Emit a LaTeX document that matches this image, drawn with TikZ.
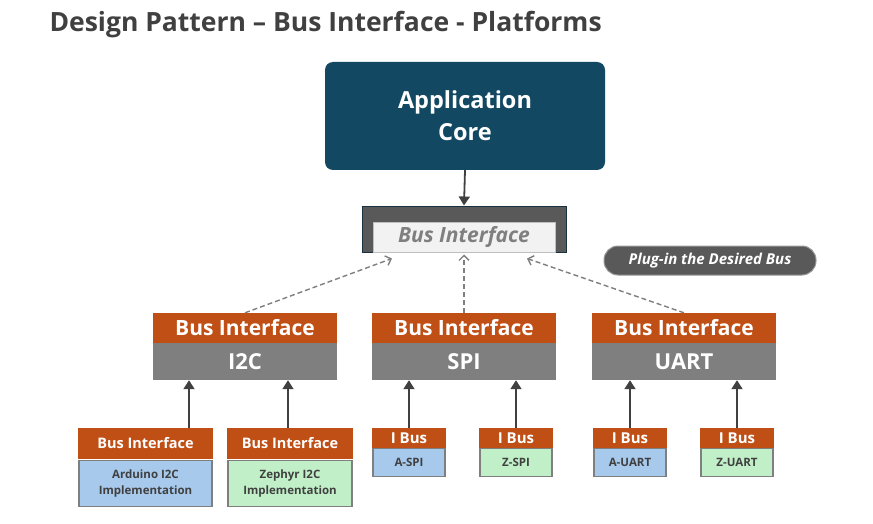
\documentclass[tikz,border=0pt]{standalone}
\usepackage{fontspec}
\setmainfont{Open Sans}
\usetikzlibrary{arrows.meta,calc}
\definecolor{appblue}{RGB}{19,72,98}
\definecolor{busorange}{RGB}{192,79,21}
\definecolor{busgray}{RGB}{127,127,127}
\definecolor{darkgray}{RGB}{89,89,89}
\definecolor{titlegray}{RGB}{64,64,64}
\definecolor{implblue}{RGB}{166,201,236}
\definecolor{implgreen}{RGB}{193,240,200}
\definecolor{framedark}{RGB}{24,50,66}
\newcommand{\fs}[1]{\fontsize{#1}{#1}\selectfont}
\begin{document}
\begin{tikzpicture}[x=1pt,y=-1pt,
    hdr/.style={fill=busorange,text=white,font=\bfseries,inner sep=0pt},
    body/.style={fill=busgray,text=white,font=\bfseries\fs{22},inner sep=0pt},
    impl/.style={draw=busgray,line width=1.6pt,text=titlegray,font=\bfseries\fontsize{11.5}{15.5}\selectfont,inner sep=0pt,align=center},
    uparrow/.style={draw=titlegray,line width=1.8pt,-{Triangle[length=9pt,width=11pt]}},
    dasharrow/.style={draw=busgray,line width=1.4pt,dash pattern=on 5pt off 3pt,-{Straight Barb[length=5pt,width=10pt]}}]
  \useasboundingbox (0,0) rectangle (873,524);
  \node[anchor=west,text=titlegray,font=\bfseries\fs{26.5}] (title) at (46,25) {Design Pattern -- Bus Interface - Platforms};
  % core and the abstract bus
  \node[fill=appblue,rounded corners=8pt,minimum width=280pt,minimum height=108pt,text=white,font=\bfseries\fontsize{23.5}{32}\selectfont,align=center] (app) at (465,116) {Application\\Core};
  \node[fill=darkgray,draw=framedark,line width=1pt,minimum width=204pt,minimum height=46pt] (busouter) at (464,229) {};
  \node[fill=black!5,draw=black!25,line width=1pt,minimum width=182pt,minimum height=30pt,inner sep=0pt,text=busgray,font=\bfseries\itshape\fs{21}] (businner) at (464,237) {Bus Interface};
  \node[fill=darkgray,draw=black!40,line width=1pt,rounded corners=14pt,minimum width=212pt,minimum height=29pt,inner sep=0pt,text=white,font=\bfseries\itshape\fs{15}] (plug) at (710,260.5) {Plug-in the Desired Bus};
  \draw[uparrow] (app.south) -- (busouter.north);
  % platform buses
  \foreach \nm/\x/\lab in {i2c/245/I2C,spi/464/SPI,uart/684/UART}{
    \node[hdr,minimum width=184pt,minimum height=30pt,font=\bfseries\fs{21}] (\nm top) at (\x,328) {Bus Interface};
    \node[body,minimum width=184pt,minimum height=37pt] (\nm) at (\x,361.5) {\lab};
  }
  \draw[dasharrow] (i2ctop.north) -- ($(businner.south)+(-72,6)$);
  \draw[dasharrow] (spitop.north) -- ($(businner.south)+(0,2)$);
  \draw[dasharrow] (uarttop.north) -- ($(businner.south)+(63,6)$);
  % I2C implementations
  \foreach \nm/\x/\w/\lab/\col in {ard/145.5/135/{Arduino I2C\\Implementation}/implblue,zeph/290/126/{Zephyr I2C\\Implementation}/implgreen}{
    \node[hdr,minimum width=\w pt,minimum height=31pt,font=\bfseries\fs{14.5}] (\nm top) at (\x,443.5) {Bus Interface};
    \node[impl,fill=\col,minimum width=\w pt-1.6pt,minimum height=46pt] (\nm) at (\x,483.5) {\lab};
  }
  \draw[uparrow] ([xshift=43.5pt]ardtop.north) -- ([xshift=43.5pt]ardtop.north |- i2c.south);
  \draw[uparrow] ([xshift=-2pt]zephtop.north) -- ([xshift=-2pt]zephtop.north |- i2c.south);
  % SPI and UART implementations
  \foreach \nm/\x/\bus/\lab/\col in {aspi/409/spi/A-SPI/implblue,zspi/516/spi/Z-SPI/implgreen,auart/630/uart/A-UART/implblue,zuart/737/uart/Z-UART/implgreen}{
    \node[hdr,minimum width=74pt,minimum height=20pt,font=\bfseries\fs{15}] (\nm top) at (\x,438) {I Bus};
    \node[impl,fill=\col,minimum width=72.4pt,minimum height=28pt] (\nm) at (\x,462.5) {\lab};
    \draw[uparrow] (\nm top.north) -- (\nm top.north |- \bus.south);
  }
\end{tikzpicture}
\end{document}
